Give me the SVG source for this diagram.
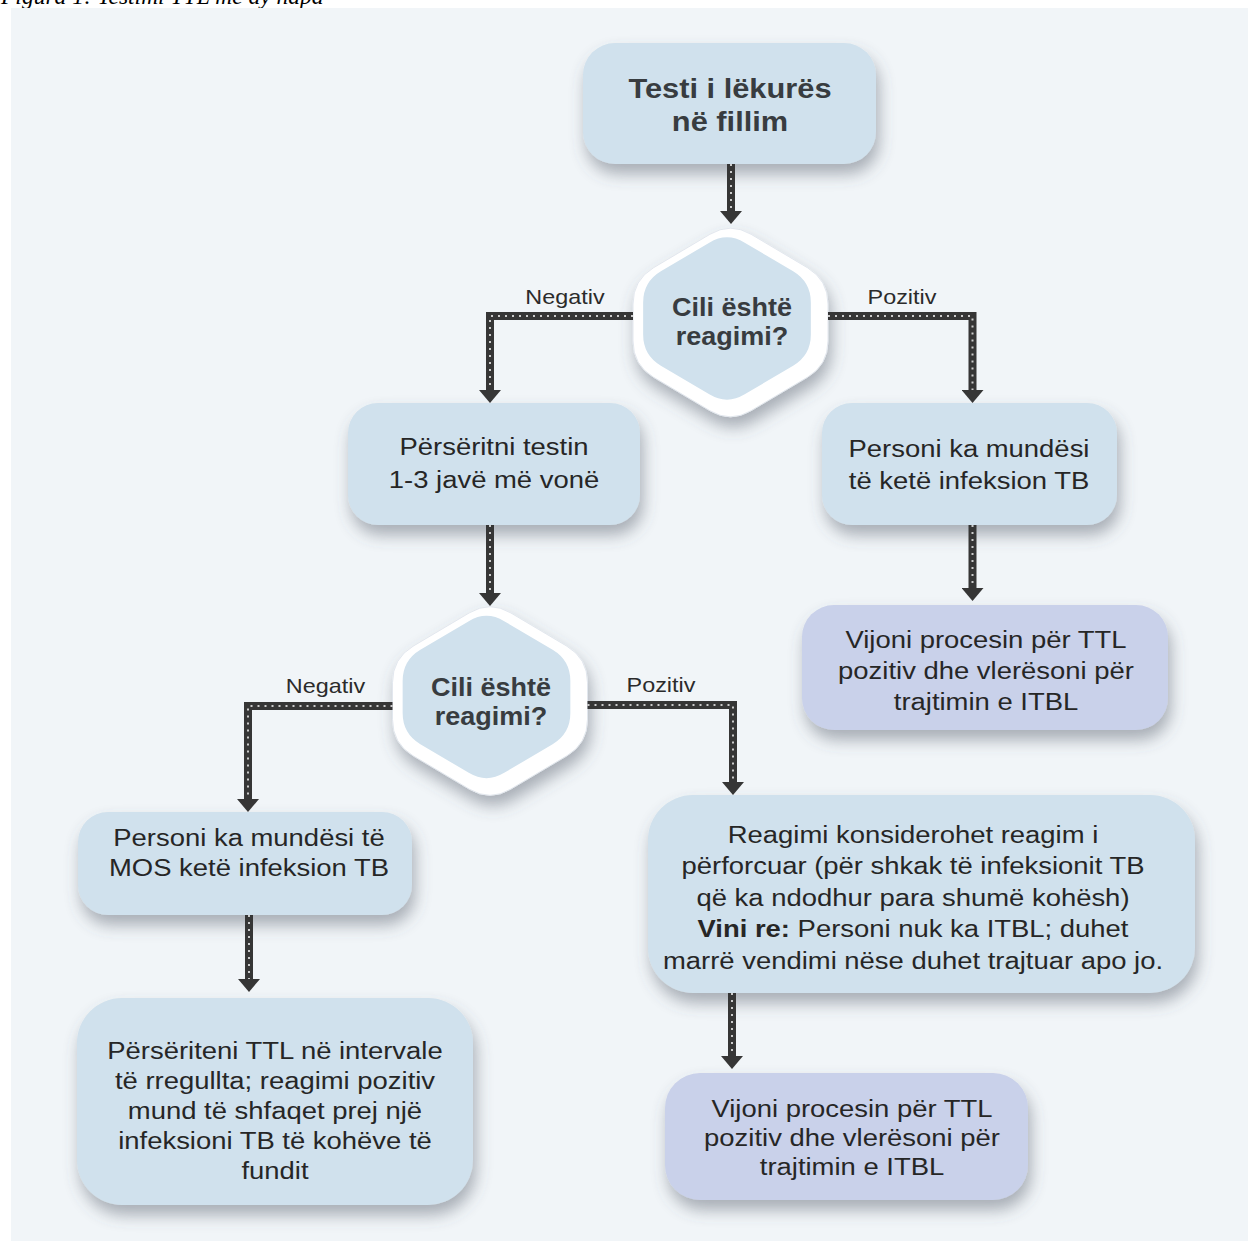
<svg xmlns="http://www.w3.org/2000/svg" width="1248" height="1241" viewBox="0 0 1248 1241">
<style>
.bg{fill:#f1f5f8}
.box{fill:#d0e1ed;filter:url(#sh)}
.pbox{fill:#c9d1ea;filter:url(#sh)}
.t{font-family:'Liberation Sans',Arial,sans-serif;font-size:24.5px;fill:#262626;text-anchor:middle}
.tb{font-family:'Liberation Sans',Arial,sans-serif;font-size:28px;font-weight:bold;fill:#383c40;text-anchor:middle}
.th{font-family:'Liberation Sans',Arial,sans-serif;font-size:26.5px;font-weight:bold;fill:#383c40;text-anchor:middle}
.lb{font-family:'Liberation Sans',Arial,sans-serif;font-size:20px;fill:#2b2b2b;text-anchor:middle}
.cap{font-family:'Liberation Serif','Times New Roman',serif;font-style:italic;font-size:23.5px;fill:#000}
.ln{fill:none;stroke:#363636;stroke-width:8;stroke-linejoin:miter;stroke-linecap:butt;marker-end:url(#ah)}
.dt{fill:none;stroke:#ffffff;stroke-width:2;stroke-dasharray:2 5;opacity:0.75}
.hexo{fill:#ffffff;stroke:#e2e7ee;stroke-width:1;filter:url(#sh)}
.hexi{fill:#d0e1ed}
</style>
<defs>
<filter id="sh" x="-20%" y="-20%" width="140%" height="150%">
<feDropShadow dx="3" dy="10" stdDeviation="8" flood-color="#4e5666" flood-opacity="0.45"/>
</filter>
<marker id="ah" viewBox="0 0 13 22" refX="0" refY="11" markerWidth="13" markerHeight="22" markerUnits="userSpaceOnUse" orient="auto">
<path d="M0,0 L13,11 L0,22 Z" fill="#363636"/>
</marker>
<path id="hex" d="M-20.6,-88.2 Q0,-100.5 20.6,-88.2 L76.9,-54.8 Q97.5,-42.5 97.5,-18.5 L97.5,18.5 Q97.5,42.5 76.9,54.8 L20.6,88.2 Q0,100.5 -20.6,88.2 L-76.9,54.8 Q-97.5,42.5 -97.5,18.5 L-97.5,-18.5 Q-97.5,-42.5 -76.9,-54.8 Z"/>
</defs>

<text class="cap" x="1" y="4">Figura 1: Testimi TTL me dy hapa</text>
<rect class="bg" x="11" y="8" width="1237" height="1233"/>

<g id="node-start">
<rect class="box" x="583" y="43" width="293" height="121" rx="32"/>
<text class="tb" transform="translate(730 0) scale(1.1 1)"><tspan x="0" y="98">Testi i lëkurës</tspan><tspan x="0" y="131">në fillim</tspan></text>
</g>

<g id="node-decision1">
<use href="#hex" class="hexo" transform="translate(730.5 322.5)"/>
<use href="#hex" class="hexi" transform="translate(727 318.5) scale(0.86)"/>
<text class="th" transform="translate(732 0) scale(1.02 1)"><tspan x="0" y="316">Cili është</tspan><tspan x="0" y="345">reagimi?</tspan></text>
</g>

<g id="node-repeat">
<rect class="box" x="348" y="403" width="292" height="122" rx="30"/>
<text class="t" transform="translate(494 0) scale(1.12 1)"><tspan x="0" y="455">Përsëritni testin</tspan><tspan x="0" y="488">1-3 javë më vonë</tspan></text>
</g>

<g id="node-possible">
<rect class="box" x="822" y="403" width="295" height="122" rx="30"/>
<text class="t" transform="translate(969 0) scale(1.12 1)"><tspan x="0" y="457">Personi ka mundësi</tspan><tspan x="0" y="489">të ketë infeksion TB</tspan></text>
</g>

<g id="node-follow1">
<rect class="pbox" x="802" y="605" width="366" height="125" rx="32"/>
<text class="t" transform="translate(986 0) scale(1.12 1)"><tspan x="0" y="648">Vijoni procesin për TTL</tspan><tspan x="0" y="679">pozitiv dhe vlerësoni për</tspan><tspan x="0" y="710">trajtimin e ITBL</tspan></text>
</g>

<g id="node-decision2">
<use href="#hex" class="hexo" transform="translate(490 701)"/>
<use href="#hex" class="hexi" transform="translate(486.5 697) scale(0.86)"/>
<text class="th" transform="translate(491 0) scale(1.02 1)"><tspan x="0" y="696">Cili është</tspan><tspan x="0" y="725">reagimi?</tspan></text>
</g>

<g id="node-notinfected">
<rect class="box" x="78" y="812" width="334" height="103" rx="30"/>
<text class="t" transform="translate(249 0) scale(1.12 1)"><tspan x="0" y="846">Personi ka mundësi të</tspan><tspan x="0" y="876">MOS ketë infeksion TB</tspan></text>
</g>

<g id="node-repeatinterval">
<rect class="box" x="77" y="998" width="396" height="207" rx="45"/>
<text class="t" transform="translate(275 0) scale(1.12 1)"><tspan x="0" y="1059">Përsëriteni TTL në intervale</tspan><tspan x="0" y="1089">të rregullta; reagimi pozitiv</tspan><tspan x="0" y="1119">mund të shfaqet prej një</tspan><tspan x="0" y="1149">infeksioni TB të kohëve të</tspan><tspan x="0" y="1179">fundit</tspan></text>
</g>

<g id="node-boosted">
<rect class="box" x="648" y="795" width="547" height="198" rx="45"/>
<text class="t" transform="translate(913 0) scale(1.12 1)"><tspan x="0" y="843">Reagimi konsiderohet reagim i</tspan><tspan x="0" y="874.5">përforcuar (për shkak të infeksionit TB</tspan><tspan x="0" y="906">që ka ndodhur para shumë kohësh)</tspan><tspan x="0" y="937.5"><tspan font-weight="bold">Vini re:</tspan> Personi nuk ka ITBL; duhet</tspan><tspan x="0" y="969">marrë vendimi nëse duhet trajtuar apo jo.</tspan></text>
</g>

<g id="node-follow2">
<rect class="pbox" x="665" y="1073" width="363" height="127" rx="35"/>
<text class="t" transform="translate(852 0) scale(1.12 1)"><tspan x="0" y="1117">Vijoni procesin për TTL</tspan><tspan x="0" y="1146">pozitiv dhe vlerësoni për</tspan><tspan x="0" y="1175">trajtimin e ITBL</tspan></text>
</g>

<g id="connectors">
<path class="ln" d="M731,164 V211"/><path class="dt" d="M731,164 V211"/>
<path class="ln" d="M633,316 H490 V390"/><path class="dt" d="M633,316 H490 V390"/>
<path class="ln" d="M828,316 H972.5 V390"/><path class="dt" d="M828,316 H972.5 V390"/>
<path class="ln" d="M490,525 V593"/><path class="dt" d="M490,525 V593"/>
<path class="ln" d="M392.5,706 H248 V799"/><path class="dt" d="M392.5,706 H248 V799"/>
<path class="ln" d="M587.5,705 H733 V782"/><path class="dt" d="M587.5,705 H733 V782"/>
<path class="ln" d="M972.5,525 V588"/><path class="dt" d="M972.5,525 V588"/>
<path class="ln" d="M249,915 V979"/><path class="dt" d="M249,915 V979"/>
<path class="ln" d="M732,993 V1056"/><path class="dt" d="M732,993 V1056"/>
<text class="lb" transform="translate(565 0) scale(1.17 1)" x="0" y="304">Negativ</text>
<text class="lb" transform="translate(902 0) scale(1.17 1)" x="0" y="304">Pozitiv</text>
<text class="lb" transform="translate(325.5 0) scale(1.17 1)" x="0" y="693">Negativ</text>
<text class="lb" transform="translate(661 0) scale(1.17 1)" x="0" y="692">Pozitiv</text>
</g>
</svg>
